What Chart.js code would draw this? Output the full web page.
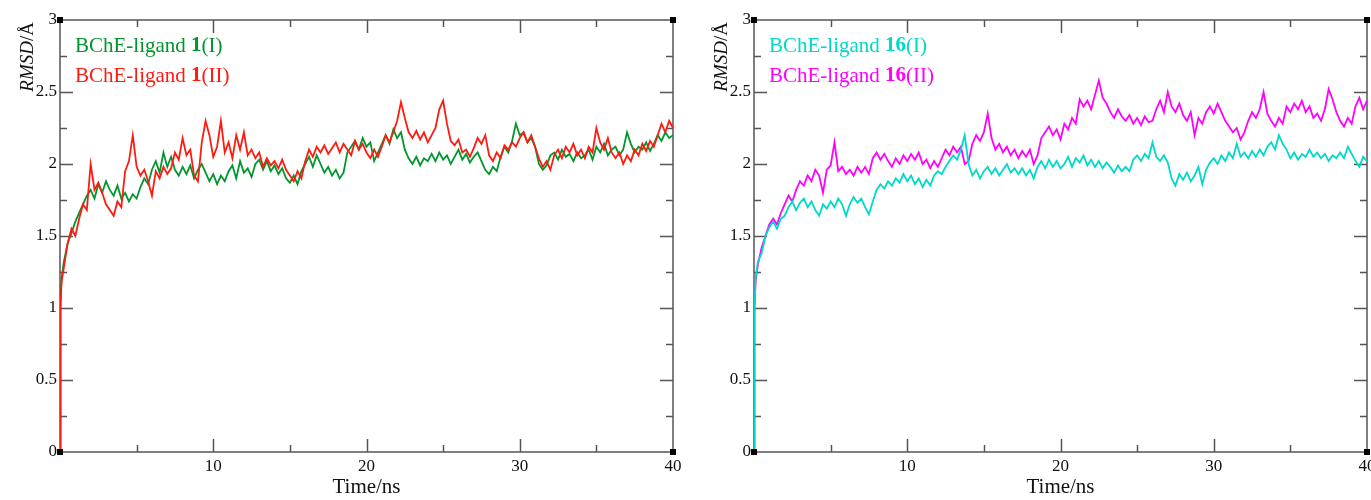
<!DOCTYPE html>
<html>
<head>
<meta charset="utf-8">
<script src="https://cdn.jsdelivr.net/npm/chart.js@4.4.1/dist/chart.umd.min.js"></script>
<style>
  html, body { margin: 0; padding: 0; background: #fff; overflow: hidden; width: 1371px; height: 500px; }
  .panel { position: absolute; top: 0; height: 500px; }
</style>
</head>
<body>
<div class="panel" style="left:0;width:686px"><canvas id="chart-left" width="686" height="500"></canvas></div>
<div class="panel" style="left:686px;width:700px"><canvas id="chart-right" width="700" height="500"></canvas></div>
<script>
// RMSD traces: first 3 points at 0, 0.03, 0.1 ns, then every 0.25 ns up to 40 ns
const headTimes = [0, 0.03, 0.1];
const stepTimes = Array.from({ length: 160 }, (_, i) => (i + 1) * 0.25);
const times = headTimes.concat(stepTimes);

const xTickLabels = ['', '10', '20', '30', '40'];
const yTickLabels = ['0', '0.5', '1', '1.5', '2', '2.5', '3'];

const ligand1_I = [0, 1.05, 1.2,
  1.32, 1.45, 1.52, 1.6,   1.66, 1.72, 1.78, 1.82,  1.76, 1.86, 1.8, 1.88,  1.82, 1.78, 1.85, 1.76,
  1.8, 1.74, 1.79, 1.76,   1.84, 1.9, 1.86, 1.96,   2.02, 1.94, 2.08, 1.98,  2.05, 1.96, 1.92, 1.98,
  1.93, 1.99, 1.9, 1.96,   2.0, 1.94, 1.88, 1.93,   1.86, 1.92, 1.88, 1.95,  1.99, 1.9, 2.02, 1.94,
  1.97, 1.91, 2.0, 2.03,   1.96, 2.02, 1.95, 1.99,  1.93, 1.97, 1.9, 1.87,   1.92, 1.86, 1.95, 2.0,
  2.05, 1.98, 2.06, 2.0,   1.94, 1.98, 1.92, 1.96,  1.9, 1.94, 2.08, 2.12,   2.16, 2.1, 2.18, 2.12,
  2.15, 2.02, 2.08, 2.14,  2.2, 2.14, 2.24, 2.18,   2.22, 2.1, 2.04, 2.0,    2.05, 1.99, 2.04, 2.02,
  2.07, 2.02, 2.08, 2.03,  2.06, 2.0, 2.05, 2.1,    2.03, 2.07, 2.01, 2.05,  2.08, 2.02, 1.96, 1.93,
  1.98, 1.95, 2.05, 2.12,  2.08, 2.16, 2.28, 2.2,   2.22, 2.15, 2.18, 2.12,  2.0, 1.96, 1.99, 2.06,
  2.08, 2.03, 2.1, 2.05,   2.07, 2.02, 2.08, 2.04,  2.06, 2.1, 2.03, 2.12,   2.08, 2.14, 2.06, 2.1,
  2.12, 2.06, 2.1, 2.22,   2.14, 2.08, 2.12, 2.1,   2.15, 2.09, 2.14, 2.2,   2.16, 2.22, 2.18, 2.2];

const ligand1_II = [0, 1.0, 1.18,
  1.28, 1.45, 1.55, 1.5,   1.62, 1.72, 1.68, 2.0,   1.82, 1.87, 1.8, 1.72,   1.68, 1.64, 1.74, 1.7,
  1.95, 2.02, 2.2, 1.98,   1.92, 1.96, 1.88, 1.78,  1.95, 1.9, 1.98, 1.93,   1.97, 2.08, 2.03, 2.18,
  2.06, 2.1, 1.92, 1.88,   2.15, 2.3, 2.2, 2.05,    2.12, 2.3, 2.08, 2.15,   2.04, 2.2, 2.1, 2.22,
  2.06, 2.1, 2.04, 2.08,   1.98, 2.04, 1.99, 2.02,  1.97, 2.03, 1.96, 1.92,  1.88, 1.95, 1.9, 2.02,
  2.1, 2.05, 2.12, 2.08,   2.13, 2.07, 2.11, 2.15,  2.08, 2.14, 2.1, 2.06,   2.16, 2.1, 2.14, 2.08,
  2.04, 2.1, 2.05, 2.12,   2.2, 2.15, 2.22, 2.3,    2.43, 2.32, 2.22, 2.18,  2.23, 2.17, 2.22, 2.15,
  2.2, 2.25, 2.38, 2.44,   2.28, 2.16, 2.13, 2.17,  2.08, 2.1, 2.05, 2.11,   2.18, 2.14, 2.2, 2.06,
  2.02, 2.08, 2.04, 2.13,  2.1, 2.15, 2.12, 2.18,   2.22, 2.15, 2.2, 2.12,   2.04, 1.98, 2.02, 1.96,
  2.06, 2.1, 2.04, 2.12,   2.08, 2.14, 2.06, 2.1,   2.04, 2.12, 2.08, 2.25,  2.15, 2.1, 2.18, 2.08,
  2.04, 2.08, 2.0, 2.06,   2.02, 2.1, 2.06, 2.14,   2.09, 2.16, 2.12, 2.2,   2.28, 2.22, 2.3, 2.25];

const ligand16_I = [0, 1.0, 1.2,
  1.32, 1.38, 1.5, 1.56,   1.6, 1.55, 1.62, 1.64,   1.7, 1.74, 1.68, 1.73,   1.76, 1.7, 1.74, 1.68,
  1.64, 1.72, 1.69, 1.74,  1.7, 1.76, 1.72, 1.64,   1.72, 1.77, 1.73, 1.76,  1.7, 1.65, 1.74, 1.82,
  1.86, 1.83, 1.88, 1.85,  1.9, 1.87, 1.93, 1.88,   1.92, 1.86, 1.9, 1.84,   1.89, 1.85, 1.92, 1.95,
  1.93, 1.98, 2.02, 2.06,  2.03, 2.1, 2.2, 2.0,     1.92, 1.96, 1.9, 1.95,   1.98, 1.93, 1.97, 1.92,
  1.96, 2.0, 1.94, 1.97,   1.93, 1.97, 1.92, 1.96,  1.9, 1.98, 2.02, 1.97,   2.03, 1.98, 2.02, 1.97,
  2.0, 2.05, 1.98, 2.04,   2.01, 2.06, 1.99, 2.03,  1.98, 2.02, 1.97, 2.01,  1.98, 1.94, 1.99, 1.95,
  1.98, 1.95, 2.03, 2.06,  2.02, 2.07, 2.04, 2.15,  2.05, 2.02, 2.06, 2.01,  1.9, 1.85, 1.93, 1.89,
  1.94, 1.88, 1.92, 1.98,  1.86, 1.96, 2.01, 2.04,  2.0, 2.06, 2.02, 2.08,   2.04, 2.14, 2.05, 2.08,
  2.04, 2.09, 2.05, 2.1,   2.06, 2.12, 2.15, 2.1,   2.2, 2.14, 2.1, 2.04,    2.08, 2.03, 2.07, 2.05,
  2.1, 2.05, 2.08, 2.04,   2.07, 2.02, 2.06, 2.04,  2.08, 2.04, 2.12, 2.07,  2.02, 1.98, 2.05, 2.02];

const ligand16_II = [0, 1.0, 1.18,
  1.3, 1.42, 1.5, 1.58,    1.62, 1.58, 1.66, 1.72,  1.78, 1.74, 1.82, 1.88,  1.85, 1.92, 1.88, 1.96,
  1.92, 1.8, 1.96, 1.99,   2.15, 1.95, 1.98, 1.93,  1.96, 1.92, 1.98, 1.94,  1.98, 1.93, 2.04, 2.08,
  2.03, 2.07, 2.02, 1.98,  2.04, 2.0, 2.06, 2.02,   2.07, 2.03, 2.08, 2.0,   2.03, 1.97, 2.02, 1.98,
  2.04, 2.1, 2.06, 2.12,   2.08, 2.12, 2.0, 2.02,   2.14, 2.2, 2.16, 2.22,   2.35, 2.18, 2.1, 2.14,
  2.08, 2.12, 2.06, 2.1,   2.04, 2.09, 2.05, 2.1,   2.0, 2.06, 2.18, 2.22,   2.26, 2.2, 2.24, 2.17,
  2.28, 2.24, 2.32, 2.28,  2.45, 2.4, 2.44, 2.38,   2.48, 2.58, 2.46, 2.42,  2.36, 2.32, 2.38, 2.33,
  2.3, 2.34, 2.28, 2.32,   2.27, 2.33, 2.29, 2.3,   2.38, 2.44, 2.36, 2.5,   2.4, 2.36, 2.42, 2.34,
  2.3, 2.36, 2.2, 2.32,    2.28, 2.36, 2.4, 2.35,   2.42, 2.36, 2.3, 2.26,   2.22, 2.25, 2.17, 2.22,
  2.3, 2.36, 2.32, 2.38,   2.5, 2.35, 2.3, 2.26,    2.32, 2.28, 2.4, 2.36,   2.42, 2.38, 2.44, 2.36,
  2.4, 2.32, 2.35, 2.3,    2.38, 2.52, 2.45, 2.36,  2.3, 2.26, 2.32, 2.28,   2.4, 2.46, 2.38, 2.44];

const GREEN = '#00962e';
const RED = '#ff1a10';
const CYAN = '#00d8c8';
const MAGENTA = '#ff00ff';
const AXIS = '#555555';
const FONT = '"Liberation Serif", "DejaVu Serif", serif';

const toPoints = (values) => values.map((v, i) => ({ x: times[i], y: v }));

// frame, inward ticks on all four sides, corner squares (xmgrace look)
const framePlugin = {
  id: 'frame',
  beforeDatasetsDraw(chart) {
    const { ctx, chartArea: a, scales: { x, y } } = chart;
    ctx.save();
    ctx.strokeStyle = AXIS;
    ctx.lineWidth = 1.5;
    ctx.strokeRect(a.left, a.top, a.right - a.left, a.bottom - a.top);
    ctx.beginPath();
    for (let t = 5; t < 40; t += 5) {
      const px = Math.round(x.getPixelForValue(t)) + 0.5;
      const len = t % 10 === 0 ? 13 : 7;
      ctx.moveTo(px, a.bottom); ctx.lineTo(px, a.bottom - len);
      ctx.moveTo(px, a.top); ctx.lineTo(px, a.top + len);
    }
    for (let v = 0.25; v < 3; v += 0.25) {
      const py = Math.round(y.getPixelForValue(v)) + 0.5;
      const len = Math.abs(v * 2 - Math.round(v * 2)) < 1e-6 ? 13 : 7;
      ctx.moveTo(a.left, py); ctx.lineTo(a.left + len, py);
      ctx.moveTo(a.right, py); ctx.lineTo(a.right - len, py);
    }
    ctx.stroke();
    ctx.restore();
  },
  afterDraw(chart) {
    const { ctx, chartArea: a } = chart;
    ctx.save();
    ctx.fillStyle = '#000';
    [[a.left, a.top], [a.right, a.top], [a.right, a.bottom], [a.left, a.bottom]].forEach(([cx, cy]) => {
      ctx.fillRect(cx - 3, cy - 3, 6, 6);
    });
    ctx.restore();
  }
};

// y-axis title with italic RMSD and in-plot legend with bold ligand number
const textPlugin = {
  id: 'texts',
  afterDraw(chart, args, opts) {
    const { ctx, chartArea: a } = chart;
    ctx.save();
    // axis title, rotated, anchored near the top
    const f1 = 'italic 19px ' + FONT;
    const f2 = '19px ' + FONT;
    ctx.font = f1; const w1 = ctx.measureText('RMSD').width;
    ctx.font = f2; const w2 = ctx.measureText('/Å').width;
    ctx.translate(a.left - 32, a.top + 2);
    ctx.rotate(-Math.PI / 2);
    ctx.fillStyle = '#111';
    ctx.textBaseline = 'middle';
    ctx.textAlign = 'left';
    ctx.font = f1; ctx.fillText('RMSD', -(w1 + w2), 0);
    ctx.font = f2; ctx.fillText('/Å', -w2, 0);
    ctx.restore();

    ctx.save();
    ctx.textBaseline = 'middle';
    opts.items.forEach((item, i) => {
      let px = a.left + 15;
      const py = a.top + 26 + i * 30;
      ctx.fillStyle = item.color;
      [['BChE-ligand ', '21px '], [item.num, 'bold 21px '], [item.tag, '21px ']].forEach(([txt, f]) => {
        ctx.font = f + FONT;
        ctx.fillText(txt, px, py);
        px += ctx.measureText(txt).width;
      });
    });
    ctx.restore();
  }
};

function makeChart(canvasId, datasets, legendItems, axisWidth, rightPad) {
  new Chart(document.getElementById(canvasId), {
    type: 'line',
    data: { datasets },
    plugins: [framePlugin, textPlugin],
    options: {
      responsive: false,
      animation: false,
      layout: { padding: { top: 20, right: rightPad, left: 0, bottom: 0 } },
      elements: { point: { radius: 0 }, line: { borderWidth: 1.8, tension: 0 } },
      plugins: {
        legend: { display: false },
        tooltip: { enabled: false },
        texts: { items: legendItems }
      },
      scales: {
        x: {
          type: 'linear',
          min: 0,
          max: 40,
          border: { display: false },
          grid: { display: false, drawTicks: false },
          ticks: {
            stepSize: 10,
            padding: 4,
            maxRotation: 0,
            color: '#111',
            font: { family: FONT, size: 17 },
            callback: (v) => xTickLabels[v / 10]
          },
          title: {
            display: true,
            text: 'Time/ns',
            color: '#111',
            font: { family: FONT, size: 21 },
            padding: { top: 4, bottom: 0 }
          },
          afterFit: (s) => { s.height = 48; }
        },
        y: {
          min: 0,
          max: 3,
          border: { display: false },
          grid: { display: false, drawTicks: false },
          ticks: {
            stepSize: 0.5,
            padding: 3,
            color: '#111',
            font: { family: FONT, size: 17 },
            callback: (v) => yTickLabels[Math.round(v * 2)]
          },
          afterFit: (s) => { s.width = axisWidth; }
        }
      }
    }
  });
}

makeChart('chart-left', [
  { label: 'BChE-ligand 1(II)', data: toPoints(ligand1_II), borderColor: RED, order: 0 },
  { label: 'BChE-ligand 1(I)', data: toPoints(ligand1_I), borderColor: GREEN, order: 1 }
], [
  { color: GREEN, num: '1', tag: '(I)' },
  { color: RED, num: '1', tag: '(II)' }
], 60, 13);

makeChart('chart-right', [
  { label: 'BChE-ligand 16(I)', data: toPoints(ligand16_I), borderColor: CYAN, order: 0 },
  { label: 'BChE-ligand 16(II)', data: toPoints(ligand16_II), borderColor: MAGENTA, order: 1 }
], [
  { color: CYAN, num: '16', tag: '(I)' },
  { color: MAGENTA, num: '16', tag: '(II)' }
], 68, 19);
</script>
</body>
</html>
